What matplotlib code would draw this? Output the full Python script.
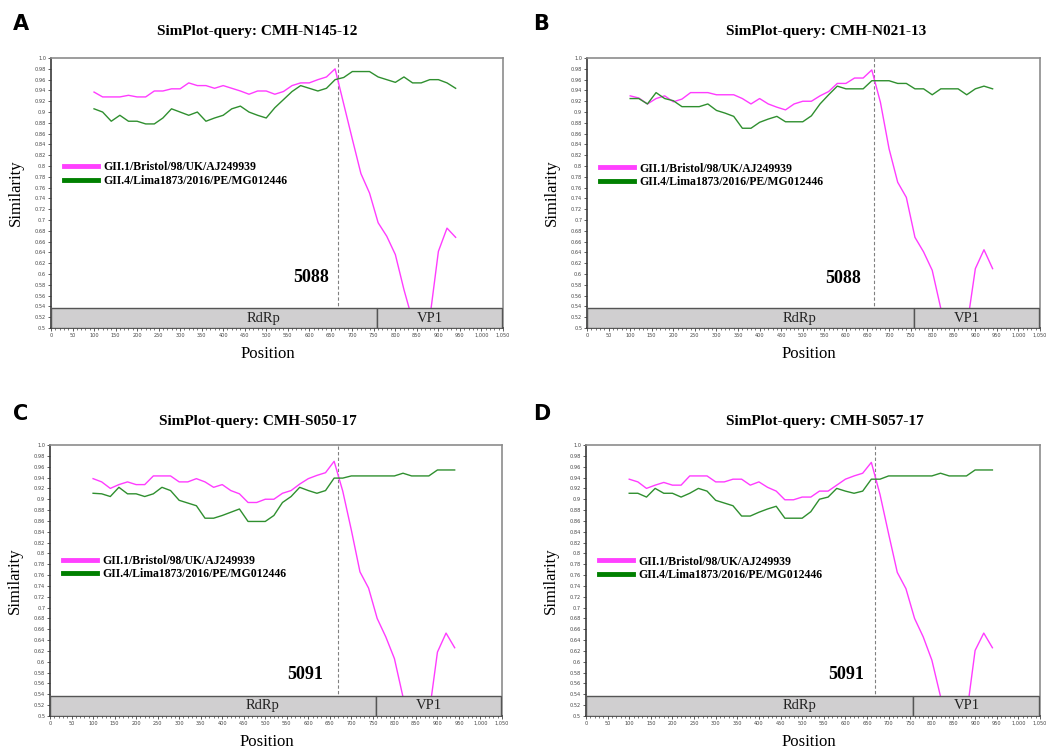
import matplotlib
matplotlib.use("Agg")
import matplotlib.pyplot as plt

# posiciones de la ventana (eje x de SimPlot)
posiciones = [100, 120, 140, 160, 180, 200, 220, 240, 260, 280, 300, 320, 340, 360,
              380, 400, 420, 440, 460, 480, 500, 520, 540, 560, 580, 600, 620, 640,
              660, 680, 700, 720, 740, 760, 780, 800, 820, 840, 860, 880, 900, 920, 940]

# Panel A: CMH-N145-12
gii1_a = [0.937, 0.928, 0.928, 0.928, 0.931, 0.928, 0.928, 0.939, 0.939, 0.943, 0.943,
          0.954, 0.949, 0.949, 0.944, 0.949, 0.944, 0.939, 0.933, 0.939, 0.939, 0.933,
          0.938, 0.949, 0.954, 0.954, 0.960, 0.965, 0.980, 0.915, 0.850, 0.786, 0.750,
          0.695, 0.670, 0.636, 0.571, 0.514, 0.480, 0.518, 0.642, 0.685, 0.668]
gii4_a = [0.906, 0.900, 0.883, 0.894, 0.883, 0.883, 0.878, 0.878, 0.889, 0.906, 0.900,
          0.894, 0.900, 0.883, 0.889, 0.894, 0.906, 0.911, 0.900, 0.894, 0.889, 0.908,
          0.923, 0.938, 0.949, 0.944, 0.939, 0.944, 0.960, 0.964, 0.975, 0.975, 0.975,
          0.965, 0.960, 0.955, 0.965, 0.954, 0.954, 0.960, 0.960, 0.954, 0.944]

# Panel B: CMH-N021-13
gii1_b = [0.930, 0.926, 0.915, 0.925, 0.930, 0.919, 0.924, 0.936, 0.936, 0.936, 0.932,
          0.932, 0.932, 0.925, 0.915, 0.925, 0.915, 0.909, 0.904, 0.915, 0.920, 0.920,
          0.930, 0.938, 0.953, 0.953, 0.963, 0.963, 0.978, 0.918, 0.832, 0.770, 0.742,
          0.668, 0.641, 0.607, 0.536, 0.500, 0.480, 0.500, 0.610, 0.645, 0.610]
gii4_b = [0.925, 0.925, 0.915, 0.936, 0.925, 0.921, 0.910, 0.910, 0.910, 0.915, 0.903,
          0.898, 0.892, 0.870, 0.870, 0.881, 0.887, 0.892, 0.882, 0.882, 0.882, 0.893,
          0.915, 0.932, 0.948, 0.943, 0.943, 0.943, 0.958, 0.958, 0.958, 0.953, 0.953,
          0.943, 0.943, 0.932, 0.943, 0.943, 0.943, 0.932, 0.943, 0.948, 0.943]

# Panel C: CMH-S050-17
gii1_c = [0.938, 0.932, 0.920, 0.927, 0.932, 0.927, 0.927, 0.943, 0.943, 0.943, 0.932,
          0.932, 0.938, 0.932, 0.922, 0.927, 0.916, 0.910, 0.894, 0.894, 0.900, 0.900,
          0.911, 0.916, 0.928, 0.938, 0.944, 0.949, 0.970, 0.915, 0.843, 0.766, 0.736,
          0.680, 0.646, 0.606, 0.535, 0.500, 0.480, 0.500, 0.618, 0.653, 0.626]
gii4_c = [0.911, 0.910, 0.905, 0.922, 0.910, 0.910, 0.905, 0.910, 0.922, 0.916, 0.898,
          0.893, 0.888, 0.865, 0.865, 0.870, 0.876, 0.882, 0.859, 0.859, 0.859, 0.870,
          0.894, 0.905, 0.922, 0.916, 0.911, 0.916, 0.939, 0.939, 0.943, 0.943, 0.943,
          0.943, 0.943, 0.943, 0.948, 0.943, 0.943, 0.943, 0.954, 0.954, 0.954]

# Panel D: CMH-S057-17
gii1_d = [0.937, 0.932, 0.920, 0.926, 0.931, 0.926, 0.926, 0.943, 0.943, 0.943, 0.932,
          0.932, 0.937, 0.937, 0.926, 0.932, 0.922, 0.915, 0.899, 0.899, 0.904, 0.904,
          0.915, 0.915, 0.926, 0.937, 0.943, 0.948, 0.968, 0.909, 0.836, 0.765, 0.735,
          0.680, 0.646, 0.603, 0.536, 0.500, 0.480, 0.500, 0.621, 0.653, 0.626]
gii4_d = [0.911, 0.911, 0.904, 0.920, 0.911, 0.911, 0.904, 0.911, 0.920, 0.915, 0.898,
          0.893, 0.888, 0.869, 0.869, 0.876, 0.882, 0.887, 0.865, 0.865, 0.865, 0.877,
          0.900, 0.904, 0.920, 0.915, 0.911, 0.915, 0.937, 0.937, 0.943, 0.943, 0.943,
          0.943, 0.943, 0.943, 0.948, 0.943, 0.943, 0.943, 0.954, 0.954, 0.954]

letras = ["A", "B", "C", "D"]
titulos = ["SimPlot-query: CMH-N145-12", "SimPlot-query: CMH-N021-13",
           "SimPlot-query: CMH-S050-17", "SimPlot-query: CMH-S057-17"]
punto_corte = [666, 666, 669, 669]
etiqueta_corte = ["5088", "5088", "5091", "5091"]
nombres_ref = ["GII.1/Bristol/98/UK/AJ249939", "GII.4/Lima1873/2016/PE/MG012446"]

# regiones del genoma (barra inferior)
regiones = ["RdRp", "VP1"]
region_inicio = [0, 757]
region_fin = [757, 1047]
region_texto_x = [493, 880]

y_ticks = [0.5, 0.52, 0.54, 0.56, 0.58, 0.6, 0.62, 0.64, 0.66, 0.68, 0.7, 0.72, 0.74,
           0.76, 0.78, 0.8, 0.82, 0.84, 0.86, 0.88, 0.9, 0.92, 0.94, 0.96, 0.98, 1.0]
y_etiquetas = ["0.5", "0.52", "0.54", "0.56", "0.58", "0.6", "0.62", "0.64", "0.66",
               "0.68", "0.7", "0.72", "0.74", "0.76", "0.78", "0.8", "0.82", "0.84",
               "0.86", "0.88", "0.9", "0.92", "0.94", "0.96", "0.98", "1.0"]
x_ticks = [0, 50, 100, 150, 200, 250, 300, 350, 400, 450, 500, 550, 600, 650, 700,
           750, 800, 850, 900, 950, 1000, 1050]
x_etiquetas = ["0", "50", "100", "150", "200", "250", "300", "350", "400", "450", "500",
               "550", "600", "650", "700", "750", "800", "850", "900", "950", "1,000", "1,050"]

series = [(gii1_a, gii4_a), (gii1_b, gii4_b), (gii1_c, gii4_c), (gii1_d, gii4_d)]

rosa = "#ff3cff"
verde = "#2f8f2f"
serif = "Liberation Serif"

figura = plt.figure(figsize=(10.6, 7.51), dpi=100)

rects = [[0.0481, 0.5632, 0.4264, 0.3595], [0.5538, 0.5632, 0.4274, 0.3595],
         [0.0472, 0.0466, 0.4264, 0.3608], [0.5528, 0.0466, 0.4283, 0.3608]]
letra_pos = [(13, 30), (533, 30), (13, 420), (533, 420)]
titulo_pos = [(257, 32), (826, 32), (258, 421), (825, 421)]
leyenda_y = [0.57, 0.566, 0.548, 0.545]
texto_corte_y = [0.594, 0.591, 0.577, 0.577]
texto_corte_x = [646, 635, 634, 644]

for i in range(4):
    ax = figura.add_axes(rects[i])
    s1, s4 = series[i]
    ax.plot(posiciones, s1, color=rosa, lw=1.0, label=nombres_ref[0], zorder=3)
    ax.plot(posiciones, s4, color=verde, lw=1.0, label=nombres_ref[1], zorder=3)

    ax.axvline(punto_corte[i], color="#808080", lw=0.8, ls=(0, (3, 2)), zorder=2)

    # barra de regiones
    anchos = [f - ini for ini, f in zip(region_inicio, region_fin)]
    ax.bar(region_inicio, [0.037] * len(regiones), width=anchos, bottom=0.5,
           align="edge", color="#d0cfd0", edgecolor="#555555", lw=1.0, zorder=5)
    for nombre, xt in zip(regiones, region_texto_x):
        ax.text(xt, 0.5185, nombre, ha="center", va="center", fontsize=10.5,
                family=serif, color="#222222", zorder=6)

    ax.text(texto_corte_x[i], texto_corte_y[i], etiqueta_corte[i], ha="right",
            va="center", fontsize=13, fontweight="bold", family=serif, zorder=4)

    ax.set_xlim(0, 1050)
    ax.set_ylim(0.5, 1.0)
    ax.set_xticks(x_ticks)
    ax.set_xticklabels(x_etiquetas)
    ax.set_xticks(range(0, 1051, 10), minor=True)
    ax.set_yticks(y_ticks)
    ax.set_yticklabels(y_etiquetas)
    ax.tick_params(axis="both", which="major", labelsize=3.6, length=2, width=0.6,
                   colors="#444444", pad=1.5)
    ax.tick_params(axis="x", which="minor", length=1.2, width=0.5, colors="#444444")

    for lado in ["top", "right"]:
        ax.spines[lado].set_color("#8c8c8c")
        ax.spines[lado].set_linewidth(1.2)
    for lado in ["left", "bottom"]:
        ax.spines[lado].set_color("#3a3a3a")
        ax.spines[lado].set_linewidth(1.2)

    ax.set_ylabel("Similarity", family=serif, fontsize=12)
    ax.yaxis.set_label_coords(-0.06, 0.5)
    ax.set_xlabel("Position", family=serif, fontsize=12)
    ax.xaxis.set_label_coords(0.48 if i % 2 == 0 else 0.49, -0.095)
    ax.xaxis.label.set_va("center")

    ley = ax.legend(loc="center left", bbox_to_anchor=(0.028, leyenda_y[i]),
                    frameon=False, handlelength=2.9, handletextpad=0.45,
                    labelspacing=0.12, borderpad=0, borderaxespad=0,
                    prop={"family": serif, "weight": "bold", "size": 8.5})
    ley.get_lines()[0].set_color("#ff40ff")
    ley.get_lines()[1].set_color("#008000")
    for linea in ley.get_lines():
        linea.set_linewidth(3.5)

    figura.text(letra_pos[i][0] / 1060, 1 - letra_pos[i][1] / 751, letras[i],
                fontsize=15, fontweight="bold", family="DejaVu Sans", va="baseline")
    figura.text(titulo_pos[i][0] / 1060, 1 - titulo_pos[i][1] / 751, titulos[i],
                fontsize=11, fontweight="bold", family=serif, ha="center", va="center")

figura.savefig("out.png", dpi=100)
